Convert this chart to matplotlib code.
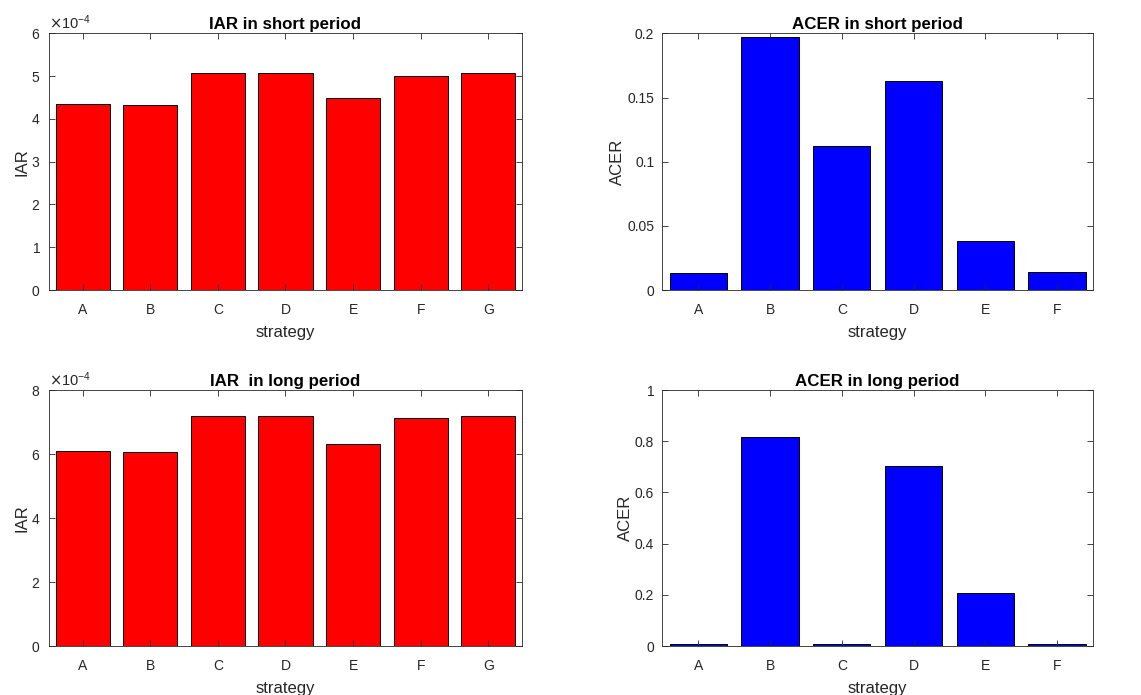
import numpy as np
import matplotlib
matplotlib.use('Agg')
import matplotlib.pyplot as plt
from matplotlib.ticker import ScalarFormatter

plt.rcParams['font.family'] = ['Liberation Sans', 'DejaVu Sans']

# data
iar_labels = ['A', 'B', 'C', 'D', 'E', 'F', 'G']
iar_short = [4.35e-4, 4.33e-4, 5.065e-4, 5.065e-4, 4.50e-4, 5.00e-4, 5.065e-4]
iar_long = [6.08e-4, 6.05e-4, 7.18e-4, 7.18e-4, 6.30e-4, 7.125e-4, 7.18e-4]

acer_labels = ['A', 'B', 'C', 'D', 'E', 'F']
acer_short = [0.013, 0.197, 0.112, 0.163, 0.038, 0.014]
acer_long = [0.008, 0.818, 0.007, 0.704, 0.206, 0.008]

axcol = (0.15, 0.15, 0.15)

fig = plt.figure(figsize=(11.41, 6.95), dpi=100)

# axes boxes (figure fractions)
pos = {
    'tl': [0.0429, 0.5827, 0.4146, 0.3693],
    'tr': [0.5806, 0.5827, 0.3772, 0.3693],
    'bl': [0.0429, 0.0705, 0.4146, 0.3683],
    'br': [0.5806, 0.0705, 0.3772, 0.3683],
}


def matlab_bar(ax, labels, values, color, title, ylabel, ylim, yticks, sci=False):
    x = np.arange(1, len(labels) + 1)
    ax.bar(x, values, width=0.8, color=color, edgecolor='black', linewidth=0.7)
    ax.set_xlim(0.5, len(labels) + 0.5)
    ax.set_ylim(*ylim)
    ax.set_xticks(x)
    ax.set_xticklabels(labels)
    ax.set_yticks(yticks)
    ax.set_title(title, fontsize=12.2, fontweight='bold', pad=3)
    ax.set_xlabel('strategy', fontsize=12, color=axcol, labelpad=6)
    ax.set_ylabel(ylabel, fontsize=12, color=axcol, labelpad=1.5)
    ax.tick_params(direction='in', top=True, right=True, length=4, width=0.6,
                   labelsize=10, colors=axcol)
    ax.tick_params(axis='x', pad=9)
    ax.tick_params(axis='y', pad=6)
    for s in ax.spines.values():
        s.set_color(axcol)
        s.set_linewidth(0.6)
    if sci:
        fmt = ScalarFormatter(useMathText=True)
        fmt.set_powerlimits((0, 0))
        ax.yaxis.set_major_formatter(fmt)
        ax.yaxis.get_offset_text().set_fontsize(10.5)
        ax.yaxis.get_offset_text().set_color(axcol)
    else:
        ax.yaxis.set_major_formatter(
            matplotlib.ticker.FuncFormatter(lambda v, p: ('%g' % v)))


ax1 = fig.add_axes(pos['tl'])
matlab_bar(ax1, iar_labels, iar_short, (1, 0, 0), 'IAR in short period', 'IAR',
           (0, 6e-4), np.arange(0, 7e-4, 1e-4), sci=True)

ax2 = fig.add_axes(pos['tr'])
matlab_bar(ax2, acer_labels, acer_short, (0, 0, 1), 'ACER in short period', 'ACER',
           (0, 0.2), [0, 0.05, 0.1, 0.15, 0.2])

ax3 = fig.add_axes(pos['bl'])
matlab_bar(ax3, iar_labels, iar_long, (1, 0, 0), 'IAR  in long period', 'IAR',
           (0, 8e-4), np.arange(0, 9e-4, 2e-4), sci=True)

ax4 = fig.add_axes(pos['br'])
matlab_bar(ax4, acer_labels, acer_long, (0, 0, 1), 'ACER in long period', 'ACER',
           (0, 1), [0, 0.2, 0.4, 0.6, 0.8, 1])

fig.savefig('out.png', dpi=100)
